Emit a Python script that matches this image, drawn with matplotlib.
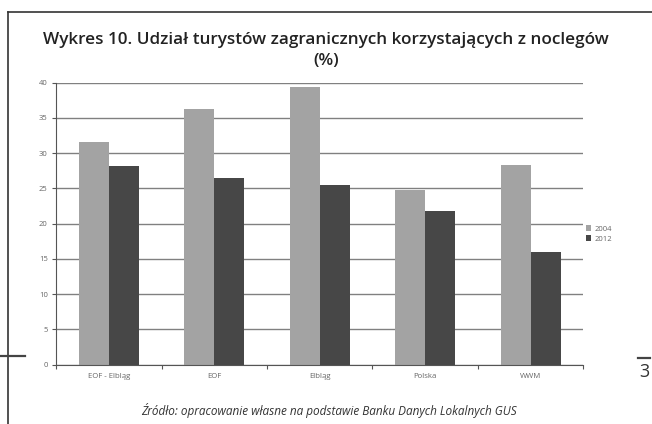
import numpy as np
import matplotlib
matplotlib.use("Agg")
import matplotlib.pyplot as plt
from matplotlib.lines import Line2D

categories = ["EOF - Elbląg", "EOF", "Elbląg", "Polska", "WWM"]
years = ["2004", "2012"]
values_2004 = [31.5, 36.3, 39.3, 24.8, 28.3]
values_2012 = [28.2, 26.5, 25.5, 21.8, 15.9]
yticks = [0, 5, 10, 15, 20, 25, 30, 35, 40]

plt.rcParams['font.family'] = ['Open Sans', 'DejaVu Sans']

fig = plt.figure(figsize=(6.52, 4.24), dpi=100)
ax = fig.add_axes([0.0859, 0.1403, 0.809, 0.6651])

x = np.arange(len(categories))
w = 1 / 3.5
ax.bar(x - w / 2, values_2004, w, color="#a3a3a3", label=years[0], zorder=2)
ax.bar(x + w / 2, values_2012, w, color="#474747", label=years[1], zorder=2)

ax.set_xlim(-0.5, len(categories) - 0.5)
ax.set_ylim(0, 40)
ax.set_yticks(yticks)
ax.set_yticklabels([str(t) for t in yticks], fontsize=5.5, color="#666666")
ax.set_xticks(np.arange(-0.5, len(categories), 1.0))
ax.set_xticklabels([])
ax.set_xticks(x, minor=True)
ax.set_xticklabels(categories, minor=True, fontsize=5.6, color="#666666")
ax.tick_params(axis="x", which="minor", length=0, pad=6)
ax.tick_params(axis="x", which="major", length=3, color="#555555", width=0.8)
ax.tick_params(axis="y", length=3, color="#555555", width=0.8, pad=3)
ax.yaxis.grid(True, color="#808080", linewidth=1.0, zorder=0)
ax.set_axisbelow(True)
for s in ["top", "right"]:
    ax.spines[s].set_visible(False)
ax.spines["left"].set_color("#555555")
ax.spines["bottom"].set_color("#555555")

leg = fig.legend(loc="upper left", bbox_to_anchor=(0.888, 0.485), frameon=False,
                 fontsize=5.5, handlelength=0.7, handleheight=0.7, handletextpad=0.4,
                 labelspacing=0.35)
for t in leg.get_texts():
    t.set_color("#666666")

fig.text(0.5, 0.905, "Wykres 10. Udział turystów zagranicznych korzystających z noclegów",
         ha="center", va="center", fontsize=12.3, fontweight="semibold", color="#222222")
fig.text(0.5, 0.855, "(%)", ha="center", va="center", fontsize=12.3,
         fontweight="semibold", color="#222222")
fig.text(0.505, 0.033, "Źródło: opracowanie własne na podstawie Banku Danych Lokalnych GUS",
         ha="center", va="center", fontsize=8.5, style="italic", color="#333333")

# scanned page frame
fig.add_artist(Line2D([0.0125, 0.0125], [0.0, 0.972], color="#333333", lw=1.2))
fig.add_artist(Line2D([0.0125, 1.0], [0.972, 0.972], color="#333333", lw=1.2))
fig.add_artist(Line2D([0.0, 0.038], [0.16, 0.16], color="#444444", lw=1.6))
fig.add_artist(Line2D([0.978, 0.997], [0.155, 0.155], color="#444444", lw=1.6))
fig.text(0.988, 0.123, "3", ha="center", va="center", fontsize=13, color="#333333")

fig.savefig("out.png", dpi=100)
